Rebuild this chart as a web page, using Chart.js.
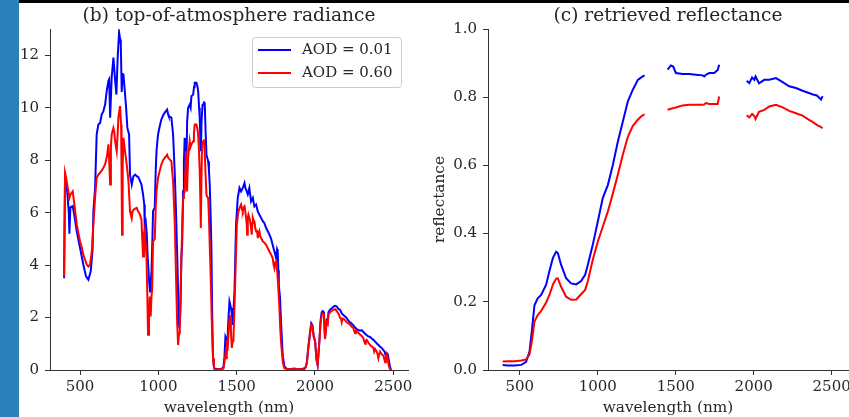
<!DOCTYPE html>
<html>
<head>
<meta charset="utf-8">
<script src="https://cdn.jsdelivr.net/npm/chart.js"></script>
<style>
  html, body { margin: 0; padding: 0; width: 849px; height: 417px; overflow: hidden; background: #fff; }
  #strip { position: absolute; left: 0; top: 0; width: 19px; height: 417px; background: #2b80b9; }
  #topbar { position: absolute; left: 19px; top: 0; width: 830px; height: 3px; background: #000; }
  .panel { position: absolute; top: 0; height: 417px; }
  #left { left: 0; width: 420px; }
  #right { left: 420px; width: 460px; }
</style>
</head>
<body>
<div id="strip"></div>
<div id="topbar"></div>
<div class="panel" id="left"><canvas id="radChart"></canvas></div>
<div class="panel" id="right"><canvas id="reflChart"></canvas></div>
<script>
// (b) top-of-atmosphere radiance, AOD = 0.01
const radWlLow = [398,404,418,428,432,438,453,466,479,500,521,538,553,568,580,585,596,606,617,628,638,649,660,670,681,686,692,702,713,723,732,740,749,756,760,766,771,777,786,794,802,813,819,830,841,852,862,872,883,892,902,910,913,920,926,930,936,941,947,952,956,962,966,977,983,988,998,1009,1019,1030,1041,1056,1062,1066,1083,1094,1105,1115,1124,1130,1135,1141,1147,1152,1158,1163,1168,1174,1179,1184,1190,1200,1206,1211,1222,1228,1232,1243,1250,1254,1260,1264,1268,1271,1276,1282,1286,1292,1296,1302,1307,1318,1323,1328,1335,1339,1343,1349,1356,1380,1400,1415,1422,1428,1432,1440,1447,1454,1464,1470,1475,1486,1496,1507,1518,1528,1539,1550,1555,1560,1571,1581,1592,1603,1613,1624,1635,1645,1656,1667,1677,1688,1698,1709,1720,1730,1741,1752,1758,1762,1766,1769,1777,1784,1794,1805,1820,1850,1870,1890,1910,1930,1940,1948,1958,1969,1976,1984,1992,2001,2010,2017,2027,2036,2043,2050,2057,2064,2070,2075,2082,2086,2096,2107,2118,2129,2139,2150,2160,2171,2181,2192,2203,2213,2224,2235,2245,2256,2266,2277,2288,2298,2309,2320,2330,2341,2352,2362,2373,2384,2394,2405,2416,2426,2437,2445,2452,2458,2465,2473,2480,2486];
const radLow = [3.5,7.3,6.8,6.0,5.2,6.2,6.25,5.8,5.28,4.65,4.01,3.57,3.44,3.76,4.6,6.05,6.94,8.98,9.36,9.42,9.74,9.87,10.12,10.63,11.02,11.08,9.62,11.15,11.91,11.1,10.5,11.9,12.87,12.6,12.42,10.6,11.3,11.27,10.6,10.0,9.23,8.98,7.45,7.07,7.39,7.45,7.39,7.35,7.2,7.07,6.7,6.3,5.41,5.6,5.2,4.52,3.9,3.37,2.99,3.4,3.75,5.0,6.05,6.2,7.6,8.34,8.98,9.3,9.55,9.7,9.81,9.93,9.75,9.68,9.62,8.98,7.45,5.54,3.5,1.8,1.6,2.3,4.27,4.8,6.81,7.9,8.85,8.4,7.96,9.5,10.0,10.12,10.0,10.44,10.5,10.8,10.95,10.95,10.8,10.63,10.0,9.62,8.9,8.34,9.5,10.1,10.12,10.2,10.18,9.0,8.21,7.96,7.6,7.07,5.6,4.52,2.36,0.45,0.06,0.03,0.05,0.08,0.5,1.27,1.21,0.96,1.9,2.61,2.36,2.1,1.72,2.99,5.54,6.56,6.94,6.81,6.94,7.13,6.95,6.88,6.69,6.94,6.43,6.56,6.24,6.31,6.05,5.92,5.8,5.67,5.6,5.41,5.3,5.16,5.0,4.77,4.52,4.27,4.6,4.52,3.8,3.25,2.74,1.72,0.57,0.13,0.05,0.03,0.06,0.02,0.04,0.03,0.1,0.3,0.9,1.45,1.78,1.7,1.3,1.1,0.4,0.2,1.0,1.9,2.2,2.25,2.2,1.25,1.6,1.9,1.85,2.2,2.3,2.35,2.42,2.45,2.42,2.32,2.3,2.16,2.1,2.04,1.98,1.88,1.82,1.76,1.7,1.62,1.56,1.53,1.5,1.52,1.45,1.38,1.33,1.28,1.26,1.2,1.15,1.08,1.02,0.95,0.89,0.84,0.76,0.7,0.55,0.64,0.6,0.32,0.1,0.0];

// (b) top-of-atmosphere radiance, AOD = 0.60
const radWlHigh = [398,404,412,420,432,440,453,466,479,490,500,510,521,532,543,553,564,575,585,596,606,617,628,638,649,660,670,675,681,686,692,697,702,713,718,724,734,740,745,755,762,765,768,772,777,787,798,809,819,825,830,835,841,852,862,870,881,892,897,902,908,913,918,924,929,934,940,945,951,956,960,966,977,983,988,998,1009,1019,1030,1041,1056,1062,1073,1083,1094,1105,1115,1120,1126,1132,1137,1142,1147,1153,1158,1163,1168,1172,1175,1179,1183,1190,1200,1205,1211,1222,1227,1232,1243,1249,1254,1259,1264,1268,1271,1275,1279,1285,1290,1296,1301,1307,1312,1318,1323,1328,1334,1339,1344,1349,1355,1360,1380,1400,1415,1422,1428,1432,1437,1443,1452,1458,1463,1469,1474,1479,1486,1492,1501,1511,1520,1528,1535,1539,1545,1550,1556,1560,1564,1567,1571,1575,1581,1586,1592,1596,1600,1603,1608,1613,1619,1624,1630,1635,1640,1645,1650,1656,1667,1677,1688,1698,1709,1720,1730,1736,1741,1746,1752,1757,1762,1768,1773,1778,1784,1790,1794,1800,1805,1830,1860,1890,1920,1940,1948,1958,1969,1976,1984,1992,2001,2010,2017,2027,2036,2043,2050,2057,2064,2070,2075,2082,2086,2096,2107,2118,2129,2139,2150,2160,2165,2171,2176,2181,2192,2203,2213,2224,2235,2245,2250,2256,2261,2266,2277,2288,2298,2309,2314,2320,2325,2330,2341,2352,2362,2373,2378,2384,2394,2400,2405,2410,2416,2426,2437,2443,2448,2453,2458,2464,2470,2476,2482];
const radHigh = [3.57,7.52,7.3,7.0,6.56,6.7,6.81,6.2,5.54,5.2,4.9,4.7,4.39,4.2,4.01,3.95,4.03,4.52,5.54,6.57,7.32,7.45,7.52,7.6,7.71,7.85,8.09,8.3,8.6,8.0,7.07,8.5,8.98,9.23,9.1,8.72,8.34,9.0,9.62,10.06,9.36,7.5,5.16,7.8,8.85,8.34,7.83,7.2,6.05,5.9,5.8,6.05,6.11,6.15,6.18,6.05,5.95,5.73,5.0,4.33,5.2,5.35,4.9,4.33,3.0,1.34,2.0,2.8,2.04,2.8,3.05,4.9,5.0,6.2,6.81,7.32,7.6,7.83,8.0,8.09,8.21,8.1,8.02,7.96,7.2,5.54,2.99,1.8,0.95,1.4,1.97,3.0,4.27,5.6,6.56,6.7,6.81,7.6,8.34,7.3,6.81,8.09,8.72,8.5,8.6,8.72,9.0,9.36,9.36,9.2,8.98,8.4,7.58,6.5,5.41,7.2,8.6,8.7,8.79,8.34,7.5,6.68,6.6,6.56,5.8,4.77,3.6,2.36,1.2,0.45,0.1,0.03,0.02,0.04,0.05,0.3,0.6,0.45,1.0,0.9,1.8,2.1,1.5,0.84,1.1,1.1,2.4,3.63,5.54,6.05,6.2,6.31,6.1,6.05,6.2,6.24,6.0,5.8,5.6,5.16,5.8,5.92,5.8,5.67,5.4,5.16,5.6,5.8,5.7,5.67,5.4,5.29,5.3,5.03,5.2,5.29,5.1,5.03,4.9,4.85,4.77,4.65,4.52,4.4,4.27,4.0,3.88,4.1,4.14,3.9,3.5,2.9,2.36,1.6,1.0,0.6,0.32,0.15,0.06,0.03,0.05,0.02,0.04,0.1,0.25,0.85,1.4,1.72,1.65,1.25,1.08,0.38,0.19,0.99,1.8,2.1,2.16,2.1,1.18,1.5,1.82,1.75,2.1,2.2,2.25,2.3,2.32,2.25,2.15,1.99,2.0,1.82,1.95,1.95,1.9,1.82,1.78,1.72,1.65,1.6,1.5,1.4,1.5,1.5,1.42,1.35,1.3,1.22,1.1,1.0,1.12,1.15,1.05,0.95,0.9,0.85,0.7,0.8,0.7,0.6,0.45,0.6,0.7,0.6,0.55,0.4,0.3,0.5,0.6,0.45,0.2,0.08,0.0];

// (c) retrieved reflectance, null = water-band gap
const reflWl = [390,425,465,510,540,562,577,594,615,637,669,690,712,733,744,765,797,829,862,893,919,936,968,1000,1032,1065,1097,1129,1161,1193,1225,1257,1279,1300,1375,1448,1469,1484,1501,1544,1587,1630,1672,1683,1694,1715,1747,1769,1779,1870,1955,1972,1990,2004,2012,2034,2068,2100,2143,2186,2228,2271,2314,2350,2380,2405,2432,2442];
const reflLow = [0.015,0.013,0.013,0.015,0.024,0.053,0.113,0.19,0.21,0.22,0.25,0.29,0.328,0.347,0.343,0.308,0.269,0.254,0.251,0.261,0.279,0.308,0.367,0.435,0.504,0.543,0.602,0.670,0.729,0.788,0.822,0.851,0.858,0.864,null,0.881,0.893,0.89,0.871,0.868,0.868,0.866,0.864,0.861,0.866,0.871,0.871,0.88,0.895,null,0.848,0.841,0.858,0.851,0.861,0.841,0.851,0.851,0.856,0.844,0.832,0.827,0.819,0.813,0.808,0.805,0.793,0.803];
const reflHigh = [0.025,0.026,0.026,0.028,0.031,0.045,0.083,0.142,0.161,0.173,0.198,0.22,0.25,0.268,0.269,0.244,0.215,0.206,0.207,0.222,0.235,0.26,0.323,0.376,0.42,0.465,0.518,0.573,0.632,0.684,0.716,0.734,0.744,0.75,null,0.763,0.766,0.768,0.770,0.776,0.778,0.778,0.778,0.779,0.783,0.78,0.78,0.78,0.802,null,0.747,0.741,0.751,0.745,0.736,0.757,0.763,0.773,0.778,0.770,0.760,0.753,0.746,0.735,0.727,0.719,0.712,0.709];

const seriesLabels = ['AOD = 0.01', 'AOD = 0.60'];
const xTicks = [500, 1000, 1500, 2000, 2500];

const serif = "'DejaVu Serif', 'Liberation Serif', serif";
const ink = '#262626';
const axisColor = '#333333';

function points(xs, ys) {
    return xs.map((x, i) => ({ x: x, y: ys[i] }));
}

// title drawn over the centre of the plot area, like matplotlib
const panelTitle = {
    id: 'panelTitle',
    afterDraw(chart, args, opts) {
        const ctx = chart.ctx;
        const area = chart.chartArea;
        ctx.save();
        ctx.font = '18.6px ' + serif;
        ctx.fillStyle = ink;
        ctx.textAlign = 'center';
        ctx.textBaseline = 'middle';
        ctx.fillText(opts.text, (area.left + area.right) / 2, opts.y);
        ctx.restore();
    }
};

// legend box inside the plot (upper right)
const boxLegend = {
    id: 'boxLegend',
    afterDraw(chart, args, opts) {
        const ctx = chart.ctx;
        ctx.save();
        ctx.fillStyle = 'rgba(255,255,255,0.8)';
        ctx.strokeStyle = '#cccccc';
        ctx.lineWidth = 1;
        ctx.beginPath();
        ctx.roundRect(opts.x + 0.5, opts.y + 0.5, opts.w, opts.h, 3);
        ctx.fill();
        ctx.stroke();
        ctx.font = '15px ' + serif;
        ctx.textBaseline = 'middle';
        chart.data.datasets.forEach(function(ds, i) {
            const ly = opts.y + 13 + i * 23;
            ctx.strokeStyle = ds.borderColor;
            ctx.lineWidth = 2;
            ctx.beginPath();
            ctx.moveTo(opts.x + 6, ly);
            ctx.lineTo(opts.x + 39, ly);
            ctx.stroke();
            ctx.fillStyle = ink;
            ctx.fillText(ds.label, opts.x + 50, ly);
        });
        ctx.restore();
    }
};

function xAxis(min, max) {
    return {
        type: 'linear',
        min: min,
        max: max,
        afterBuildTicks: function(scale) { scale.ticks = xTicks.map(v => ({ value: v })); },
        ticks: {
            color: ink,
            font: { family: serif, size: 15 },
            padding: 3,
            maxRotation: 0,
            autoSkip: false,
            callback: v => String(v)
        },
        grid: { drawOnChartArea: false, drawTicks: true, tickLength: 5, color: axisColor, lineWidth: 1 },
        border: { display: true, color: axisColor, width: 1 },
        title: { display: true, text: 'wavelength (nm)', color: ink, font: { family: serif, size: 15.3 }, padding: { top: 0, bottom: 0 } },
        afterFit: function(scale) { scale.height = 47; }
    };
}

function yAxis(max, step, fmt, width, title) {
    return {
        min: 0,
        max: max,
        ticks: {
            stepSize: step,
            includeBounds: false,
            color: ink,
            font: { family: serif, size: 15 },
            padding: 6,
            callback: fmt
        },
        grid: { drawOnChartArea: false, drawTicks: true, tickLength: 5, color: axisColor, lineWidth: 1 },
        border: { display: true, color: axisColor, width: 1 },
        title: title ? { display: true, text: title, color: ink, font: { family: serif, size: 15.3 }, padding: { top: 11, bottom: 0 } } : { display: false },
        afterFit: function(scale) { scale.width = width; }
    };
}

function lineSet(label, color, data, order) {
    return {
        label: label,
        data: data,
        borderColor: color,
        backgroundColor: color,
        borderWidth: 2,
        pointRadius: 0,
        tension: 0,
        spanGaps: false,
        order: order
    };
}

new Chart(document.getElementById('radChart'), {
    type: 'line',
    data: {
        datasets: [
            lineSet(seriesLabels[0], '#0000ff', points(radWlLow, radLow), 1),
            lineSet(seriesLabels[1], '#ff0000', points(radWlHigh, radHigh), 0)
        ]
    },
    options: {
        responsive: true,
        maintainAspectRatio: false,
        animation: false,
        layout: { padding: { left: 0, right: 12, top: 29, bottom: 0 } },
        plugins: {
            legend: { display: false },
            tooltip: { enabled: false },
            panelTitle: { text: '(b) top-of-atmosphere radiance', y: 16 },
            boxLegend: { x: 252, y: 37, w: 149, h: 50 }
        },
        scales: {
            x: xAxis(308, 2594),
            y: yAxis(13, 2, v => String(v), 50, null)
        }
    },
    plugins: [panelTitle, boxLegend]
});

new Chart(document.getElementById('reflChart'), {
    type: 'line',
    data: {
        datasets: [
            lineSet(seriesLabels[0], '#0000ff', points(reflWl, reflLow), 1),
            lineSet(seriesLabels[1], '#ff0000', points(reflWl, reflHigh), 0)
        ]
    },
    options: {
        responsive: true,
        maintainAspectRatio: false,
        animation: false,
        layout: { padding: { left: 0, right: 32, top: 29, bottom: 0 } },
        plugins: {
            legend: { display: false },
            tooltip: { enabled: false },
            panelTitle: { text: '(c) retrieved reflectance', y: 16 }
        },
        scales: {
            x: xAxis(296, 2605),
            y: yAxis(1, 0.2, v => Number(v).toFixed(1), 68, 'reflectance')
        }
    },
    plugins: [panelTitle]
});
</script>
</body>
</html>
